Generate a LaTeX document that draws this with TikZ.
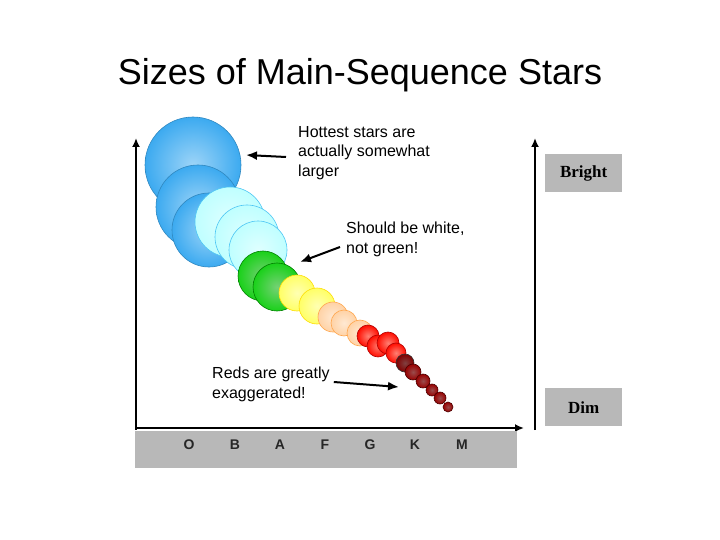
\documentclass[tikz,border=0pt]{standalone}
\usepackage{fontspec}
\setmainfont{Liberation Sans}
\newfontfamily\serifft{Liberation Serif}
\usetikzlibrary{arrows.meta}
\definecolor{sblue}{RGB}{60,170,240}
\begin{document}
\begin{tikzpicture}[x=1pt,y=-1pt,
  lbl/.style={font=\fontsize{16}{19.5}\selectfont,align=left,anchor=north west,inner sep=0pt},
  gbox/.style={fill=black!28,draw=none},
  ax/.style={line width=2pt,-{Latex[length=9,width=8]}},
  ann/.style={line width=2pt,-{Latex[length=11,width=9]}},
  cls/.style={font=\bfseries\fontsize{14}{16}\selectfont,text=black!85}]
\useasboundingbox (0,0) rectangle (720,540);
\node (title) at (360,75) {\fontsize{36}{40}\selectfont Sizes of Main-Sequence Stars};
% axes
\coordinate (o) at (136,430);
\coordinate (ytop) at (136,138);
\coordinate (xend) at (524,428);
\draw[ax] (o) -- (ytop);
\draw[ax] (136,428) -- (xend);
\coordinate (r0) at (535,430);
\coordinate (r1) at (535,138);
\draw[ax] (r0) -- (r1);
\fill[gbox] (135,431) rectangle (517,468);
\node[cls] (O) at (189,445) {O};
\node[cls] (B) at (235,445) {B};
\node[cls] (A) at (280,445) {A};
\node[cls] (F) at (325,445) {F};
\node[cls] (G) at (370,445) {G};
\node[cls] (K) at (415,445) {K};
\node[cls] (M) at (462,445) {M};
\node[gbox,minimum width=77,minimum height=38,anchor=north west] (bright) at (545,154) {};
\node at (bright.center) {\serifft\fontsize{17}{19}\selectfont\textbf{Bright}};
\node[gbox,minimum width=77,minimum height=38,anchor=north west] (dim) at (545,388) {};
\node at (dim.center) {\serifft\fontsize{17}{19}\selectfont\textbf{Dim}};
% stars
\foreach \x/\y/\r/\c/\d in {
 193/165/48/sblue/sblue!80!black,
 198/207/42/sblue/sblue!80!black,
 209/230/37/sblue/sblue!80!black,
 230/222/35/cyan!25/cyan!70,
 247/237/32/cyan!25/cyan!70,
 258/250/29/cyan!25/cyan!70,
 263/276/25/green!80!black!90/green!50!black,
 277/287/24/green!80!black!90/green!50!black,
 297/293/18/yellow!60/yellow!80!orange,
 317/306/18/yellow!60/yellow!80!orange,
 333/317/15/orange!35/orange!70,
 344/323/13/orange!35/orange!70,
 360/333/13/orange!35/orange!70,
 368/336/11/red!90!orange/red!70!black,
 378/346/11/red!90!orange/red!70!black,
 388/343/11/red!90!orange/red!70!black,
 396/353/10/red!90!orange/red!70!black,
 405/363/9/red!50!black/black!80,
 413/372/8/red!60!black/red!30!black,
 423/381/7/red!60!black/red!30!black,
 432/390/6/red!60!black/red!30!black,
 440/398/6/red!60!black/red!30!black,
 448/407/5/red!60!black/red!30!black}
 {\draw[draw=\d,line width=0.6pt,inner color=white!50!\c,outer color=\c] (\x,\y) circle (\r);}
% labels
\node[lbl] (hot) at (298,126) {Hottest stars are\\actually somewhat\\larger};
\node[lbl] (wht) at (346,222) {Should be white,\\not green!};
\node[lbl] (red) at (212,367) {Reds are greatly\\exaggerated!};
\coordinate (a1) at (246,155);
\coordinate (a2) at (300,262);
\coordinate (a3) at (399,387);
\draw[ann] (hot.west |- 0,157) ++(-12,0) -- (a1);
\draw[ann] (wht.west |- 0,247) ++(-6,0) -- (a2);
\draw[ann] (red.east |- 0,382) ++(4,0) -- (a3);
\end{tikzpicture}
\end{document}
